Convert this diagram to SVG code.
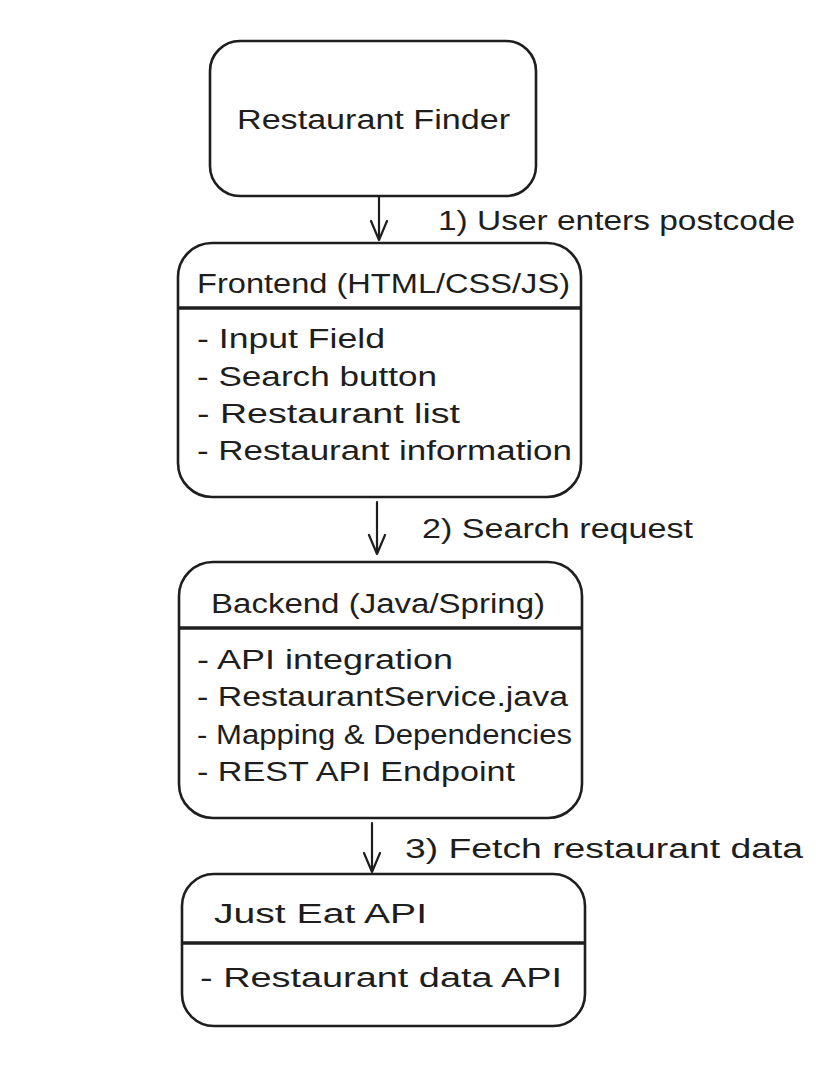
<svg xmlns="http://www.w3.org/2000/svg" width="836" height="1088" viewBox="0 0 836 1088">
<style>
.box{fill:#fff;stroke:#1e1e1e;stroke-width:2.6}
.div{stroke:#1e1e1e;stroke-width:3.5}
.t{font-family:"Liberation Sans",Arial,sans-serif;font-size:27px;fill:#1e1e1e}
.c{stroke:#1e1e1e;stroke-width:2.2;fill:none;stroke-linecap:round;stroke-linejoin:round}
</style>
<rect width="836" height="1088" fill="#fff"/>
<g id="connectors">
<g id="arrow1"><path class="c" d="M379 196 L379 240 M371 221 L379 240 L387 221"/><text class="t" x="438" y="230" textLength="357" lengthAdjust="spacingAndGlyphs">1) User enters postcode</text></g>
<g id="arrow2"><path class="c" d="M377 502 L377 554 M369 535 L377 554 L385 535"/><text class="t" x="422" y="538" textLength="271" lengthAdjust="spacingAndGlyphs">2) Search request</text></g>
<g id="arrow3"><path class="c" d="M372 823 L372 872 M364 853 L372 872 L380 853"/><text class="t" x="405" y="858" textLength="398" lengthAdjust="spacingAndGlyphs">3) Fetch restaurant data</text></g>
</g>
<g id="restaurant-finder">
<rect class="box" x="210" y="41" width="326" height="155" rx="30"/>
<text class="t" x="237" y="129" textLength="273" lengthAdjust="spacingAndGlyphs">Restaurant Finder</text>
</g>
<g id="frontend">
<rect class="box" x="178" y="243" width="403" height="254" rx="34"/>
<line class="div" x1="178" y1="308" x2="581" y2="308"/>
<text class="t" x="197" y="293" textLength="373" lengthAdjust="spacingAndGlyphs">Frontend (HTML/CSS/JS)</text>
<text class="t" x="197" y="348" textLength="188" lengthAdjust="spacingAndGlyphs">- Input Field</text>
<text class="t" x="197" y="386" textLength="240" lengthAdjust="spacingAndGlyphs">- Search button</text>
<text class="t" x="197" y="423" textLength="263" lengthAdjust="spacingAndGlyphs">- Restaurant list</text>
<text class="t" x="197" y="460" textLength="375" lengthAdjust="spacingAndGlyphs">- Restaurant information</text>
</g>
<g id="backend">
<rect class="box" x="179" y="562" width="403" height="256" rx="34"/>
<line class="div" x1="179" y1="628" x2="582" y2="628"/>
<text class="t" x="211" y="613" textLength="334" lengthAdjust="spacingAndGlyphs">Backend (Java/Spring)</text>
<text class="t" x="197" y="669" textLength="256" lengthAdjust="spacingAndGlyphs">- API integration</text>
<text class="t" x="197" y="706" textLength="371" lengthAdjust="spacingAndGlyphs">- RestaurantService.java</text>
<text class="t" x="197" y="744" textLength="375" lengthAdjust="spacingAndGlyphs">- Mapping &amp; Dependencies</text>
<text class="t" x="197" y="781" textLength="318" lengthAdjust="spacingAndGlyphs">- REST API Endpoint</text>
</g>
<g id="just-eat-api">
<rect class="box" x="182" y="874" width="403" height="152" rx="32"/>
<line class="div" x1="182" y1="943" x2="585" y2="943"/>
<text class="t" x="214" y="923" textLength="213" lengthAdjust="spacingAndGlyphs">Just Eat API</text>
<text class="t" x="200" y="987" textLength="362" lengthAdjust="spacingAndGlyphs">- Restaurant data API</text>
</g>
</svg>
